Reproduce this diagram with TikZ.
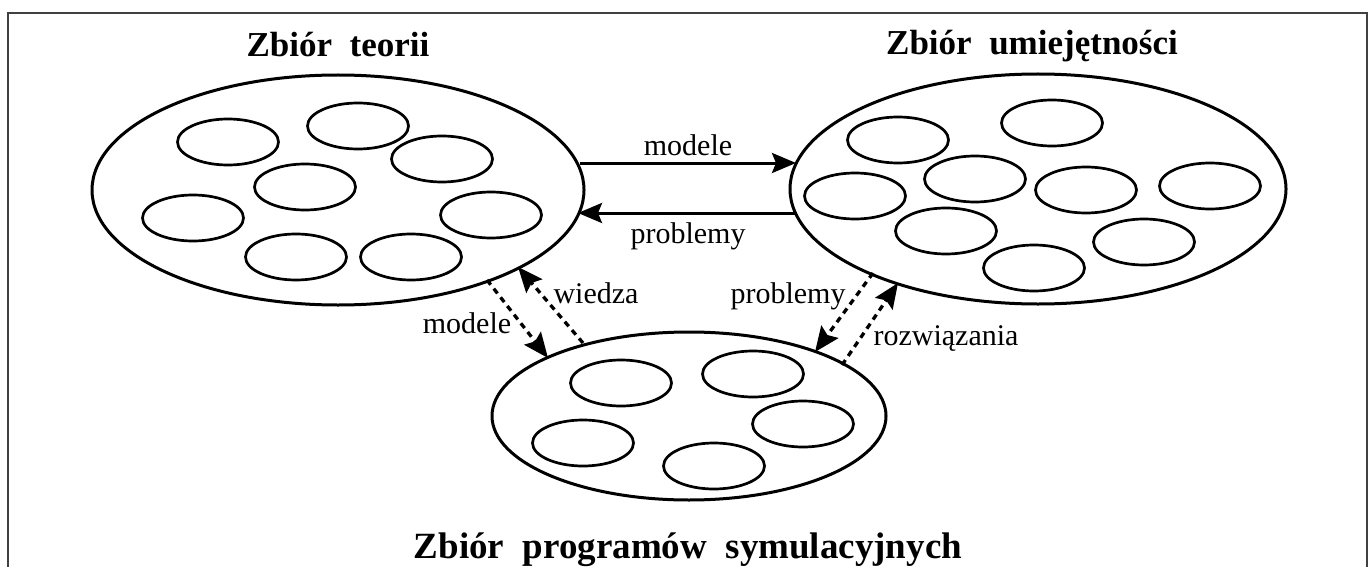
\documentclass[tikz,border=0pt]{standalone}
\usepackage{fontspec}
\setmainfont{Liberation Serif}
\usetikzlibrary{shapes.geometric,arrows.meta}
\begin{document}
\begin{tikzpicture}[x=1pt,y=-1pt,
  big/.style={draw,ellipse,line width=3pt,inner sep=0pt},
  small/.style={draw,ellipse,line width=2.7pt,minimum width=101pt,minimum height=46pt,inner sep=0pt},
  ttl/.style={font=\fontsize{35}{40}\selectfont\bfseries,anchor=base,inner sep=0pt},
  lbl/.style={font=\fontsize{30}{34}\selectfont,anchor=base,inner sep=0pt},
  arr/.style={line width=3pt,-{Stealth[length=24pt,width=20pt,inset=4pt]}},
  darr/.style={line width=3.3pt,dash pattern=on 6pt off 5pt,-{Stealth[length=25pt,width=21pt,inset=4pt]}},
  frame/.style={line width=1.5pt,black!75}
]
\useasboundingbox (0,0) rectangle (1370,567);
\draw[frame] (8,567) -- (8,13) -- (1367,13) -- (1367,567);

% big ellipses
\node[big,minimum width=492pt,minimum height=230pt] (L) at (338,190) {};
\node[big,minimum width=496pt,minimum height=230pt] (R) at (1038,189) {};
\node[big,minimum width=394pt,minimum height=168pt] (B) at (689,416) {};

% titles
\node[ttl] (tL) at (338,57) {Zbiór\ \ teorii};
\node[ttl] (tR) at (1032,55) {Zbiór\ \ umiejętności};
\node[ttl,font=\fontsize{37}{42}\selectfont\bfseries] (tB) at (688,558) {Zbiór\ \ programów\ \ symulacyjnych};

% small ellipses, left
\node[small] (l1) at (228,142) {};
\node[small] (l2) at (358,126) {};
\node[small] (l3) at (442,159) {};
\node[small] (l4) at (305,187) {};
\node[small] (l5) at (193,218) {};
\node[small] (l6) at (491,215) {};
\node[small] (l7) at (296,257) {};
\node[small] (l8) at (411,257) {};

% small ellipses, right
\node[small] (r1) at (898,140) {};
\node[small] (r2) at (1052,123) {};
\node[small] (r3) at (855,196) {};
\node[small] (r4) at (975,179) {};
\node[small] (r5) at (1086,190) {};
\node[small] (r6) at (1210,186) {};
\node[small] (r7) at (946,231) {};
\node[small] (r8) at (1144,242) {};
\node[small] (r9) at (1034,268) {};

% small ellipses, bottom
\node[small] (b1) at (621,383) {};
\node[small] (b2) at (753,374) {};
\node[small] (b3) at (583,443) {};
\node[small] (b4) at (803,424) {};
\node[small] (b5) at (714,466) {};

% solid arrows
\draw[arr] ([shift={(242,-27)}]L.center) -- ([shift={(-242,-26)}]R.center);
\draw[arr] ([shift={(-241,24)}]R.center) -- ([shift={(240,23)}]L.center);
\node[lbl] (m1) at (688,155) {modele};
\node[lbl] (p1) at (688,243) {problemy};

% dashed arrows
\draw[darr] ([shift={(149,90)}]L.center) -- ([shift={(-141,-58)}]B.center);
\draw[darr] ([shift={(-106,-73)}]B.center) -- ([shift={(180,77)}]L.center);
\draw[darr] ([shift={(-165,84)}]R.center) -- ([shift={(126,-64)}]B.center);
\draw[darr] ([shift={(153,-51)}]B.center) -- ([shift={(-140,94)}]R.center);
\node[lbl] (m2) at (467,333) {modele};
\node[lbl] (w2) at (596,303) {wiedza};
\node[lbl] (p2) at (788,303) {problemy};
\node[lbl] (r2l) at (946,345) {rozwiązania};
\end{tikzpicture}
\end{document}
